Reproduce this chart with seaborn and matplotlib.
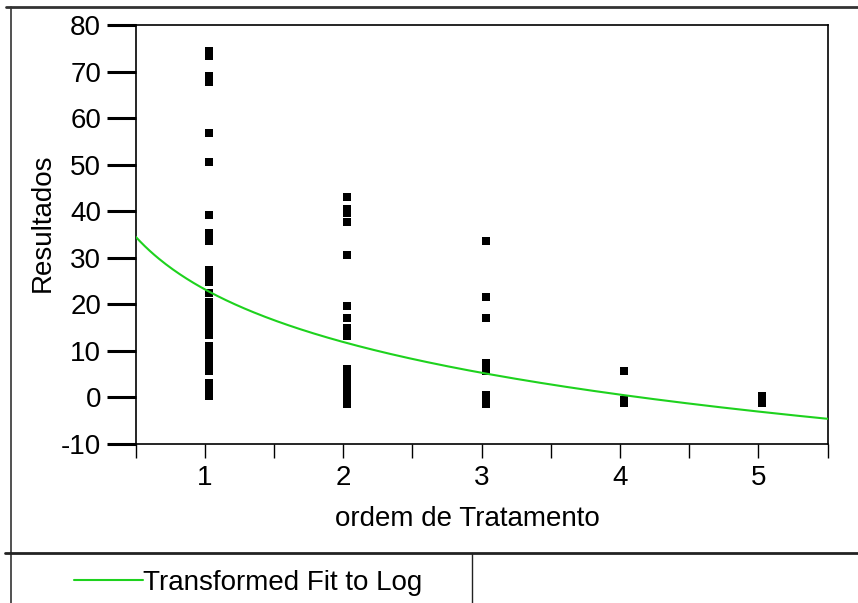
import numpy as np
import pandas as pd
import matplotlib
matplotlib.use("Agg")
import matplotlib.pyplot as plt
from matplotlib.lines import Line2D
from matplotlib.transforms import ScaledTranslation
import seaborn as sns

# Results per treatment order
resultados_ordem_1 = [74.4, 73.3, 69.0, 67.8, 56.7, 50.6, 39.1, 35.3, 33.5,
                      27.4, 26.1, 24.7, 22.5, 20.5, 18.8, 17.4, 16.0, 14.7,
                      13.4, 11.1, 9.7, 8.4, 7.0, 5.6, 3.0, 1.6, 0.2]
resultados_ordem_2 = [43.0, 40.5, 39.6, 37.6, 30.5, 19.6, 17.1, 14.9, 13.9,
                      13.2, 6.0, 5.0, 4.0, 3.0, 2.0, 1.0, 0.0, -1.0, -1.4]
resultados_ordem_3 = [33.5, 21.5, 17.0, 7.5, 5.6, 0.6, -0.4, -1.4]
resultados_ordem_4 = [5.6, -0.6, -1.3]
resultados_ordem_5 = [0.2, -1.2]

# Fitted model: Resultados = a + b * log(ordem)
fit_intercept = 23.2
fit_slope = -16.3

x_ticks = [1, 2, 3, 4, 5]
y_ticks = [-10, 0, 10, 20, 30, 40, 50, 60, 70, 80]

groups = [resultados_ordem_1, resultados_ordem_2, resultados_ordem_3,
          resultados_ordem_4, resultados_ordem_5]
df = pd.DataFrame({
    "ordem": np.concatenate([[k] * len(g) for k, g in zip(x_ticks, groups)]),
    "resultado": np.concatenate(groups),
})

grid = np.linspace(0.5, 5.5, 300)
fit_df = pd.DataFrame({"ordem": grid,
                       "resultado": fit_intercept + fit_slope * np.log(grid)})

sns.set_style("ticks")
plt.rcParams["font.family"] = ["Liberation Sans", "DejaVu Sans"]
plt.rcParams.update({
    "text.color": "black",
    "axes.labelcolor": "black",
    "xtick.color": "black",
    "ytick.color": "black",
    "axes.unicode_minus": False,
})

fig = plt.figure(figsize=(8.58, 6.03), dpi=100)
ax = fig.add_axes([0.1582, 0.2637, 0.8063, 0.6949])

sns.scatterplot(data=df, x="ordem", y="resultado", marker="s", s=30,
                color="black", linewidth=0, ax=ax, legend=False, zorder=3)
pts = ax.collections[-1]
pts.set_offset_transform(ax.transData +
                         ScaledTranslation(0.04, 0, fig.dpi_scale_trans))

sns.lineplot(data=fit_df, x="ordem", y="resultado", color="#1ED21E",
             linewidth=1.5, ax=ax, zorder=4)

ax.set_xlim(0.5, 5.5)
ax.set_ylim(-10, 80)
ax.set_xticks(x_ticks)
ax.set_xticks(np.arange(0.5, 5.6, 1.0), minor=True)
ax.set_yticks(y_ticks)
ax.tick_params(axis="x", which="both", direction="out", length=10, width=1,
               labelsize=20, pad=5, color="black", labelcolor="black")
ax.tick_params(axis="y", direction="out", length=21, width=2.2,
               labelsize=20, pad=4, color="black", labelcolor="black")
for sp in ax.spines.values():
    sp.set_color("black")
    sp.set_linewidth(1.2)

ax.set_xlabel("ordem de Tratamento", fontsize=20, va="center", color="black")
ax.xaxis.set_label_coords(0.479, -0.179)
ax.set_ylabel("Resultados", fontsize=20, va="center", color="black")
ax.yaxis.set_label_coords(-0.134, 0.527)

# Report frame
W, H = 858.0, 603.0
frame = [
    ([6 / W, 1.0], [1 - 7 / H, 1 - 7 / H], 2.0, "#333333"),
    ([11 / W, 11 / W], [0.0, 1 - 7 / H], 1.2, "#333333"),
    ([5 / W, 1.0], [1 - 553 / H, 1 - 553 / H], 2.0, "#222222"),
    ([472 / W, 472 / W], [0.0, 1 - 553 / H], 1.0, "#222222"),
]
for xs, ys, lw, c in frame:
    fig.add_artist(Line2D(xs, ys, transform=fig.transFigure, lw=lw, color=c))

fit_line = ax.get_lines()[-1]
leg = fig.legend([fit_line], ["Transformed Fit to Log"], loc="center left",
                 bbox_to_anchor=(74 / W, 1 - 583 / H), frameon=False,
                 fontsize=20, handlelength=2.5, handletextpad=0.0,
                 borderpad=0.0, borderaxespad=0.0)
for t in leg.get_texts():
    t.set_color("black")

fig.savefig("out.png", dpi=100)
